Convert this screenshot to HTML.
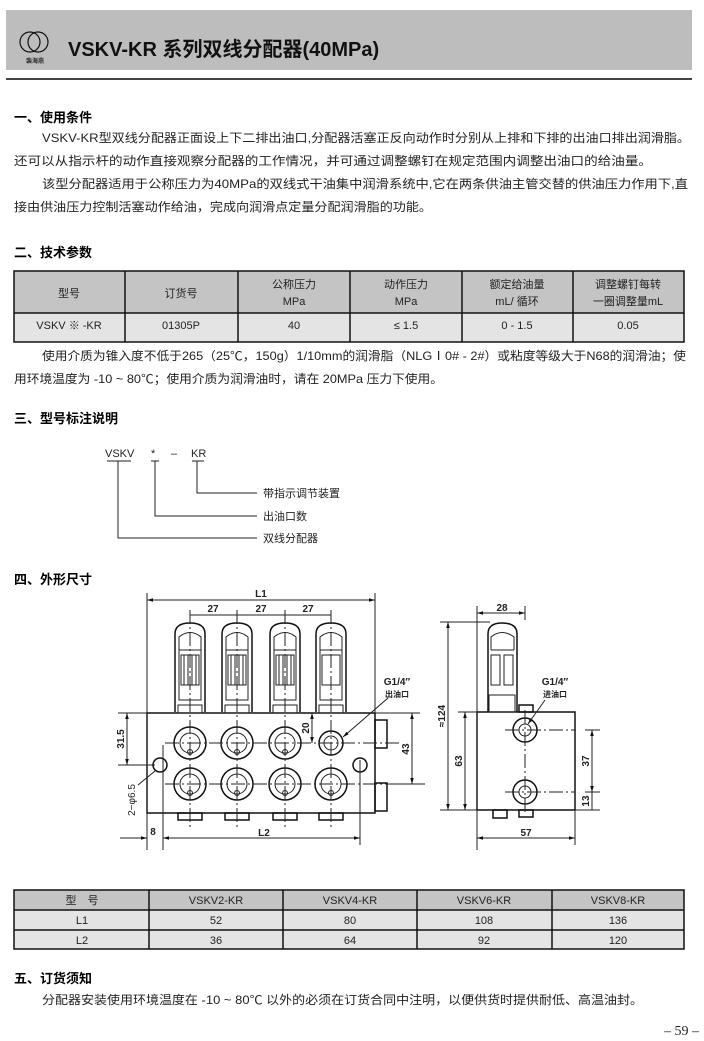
<!DOCTYPE html>
<html><head><meta charset="utf-8"><style>
html,body{margin:0;padding:0;background:#fff}
svg{display:block}
text{font-family:"Liberation Sans","Noto Sans CJK SC",sans-serif;fill:#222}
.b{font-weight:bold}
.t{font-size:12px}
.h{font-size:13px;font-weight:bold;fill:#000}
.d{font-size:10px;font-weight:bold;fill:#111}
.ln{stroke:#222;stroke-width:1;fill:none}
.th{stroke:#111;stroke-width:1.5;fill:none}
</style></head><body>
<svg width="704" height="1041" viewBox="0 0 704 1041" xmlns="http://www.w3.org/2000/svg">
<defs>
<marker id="a" viewBox="0 0 10 10" refX="10" refY="5" markerWidth="6" markerHeight="6" orient="auto-start-reverse"><path d="M0,2 L10,5 L0,8z" fill="#111"/></marker>
</defs>
<!-- header -->
<rect x="6" y="10" width="686" height="60" fill="#bdbdbd"/>
<line x1="6" y1="79" x2="692" y2="79" stroke="#444" stroke-width="2"/>
<circle cx="30" cy="42" r="10" fill="none" stroke="#111" stroke-width="1.2"/>
<circle cx="38" cy="42" r="10" fill="none" stroke="#111" stroke-width="1.2"/>
<text x="26" y="63" style="font-size:6px;font-weight:bold">裴海燕</text>
<text x="68" y="56" class="b" style="font-size:20px;fill:#111">VSKV-KR 系列双线分配器(40MPa)</text>

<text x="14" y="122" class="h">一、使用条件</text>
<text x="42" y="142" class="t" textLength="648" lengthAdjust="spacingAndGlyphs">VSKV-KR型双线分配器正面设上下二排出油口,分配器活塞正反向动作时分别从上排和下排的出油口排出润滑脂。</text>
<text x="14" y="165" class="t" textLength="638" lengthAdjust="spacingAndGlyphs">还可以从指示杆的动作直接观察分配器的工作情况，并可通过调整螺钉在规定范围内调整出油口的给油量。</text>
<text x="42" y="188" class="t" textLength="646" lengthAdjust="spacingAndGlyphs">该型分配器适用于公称压力为40MPa的双线式干油集中润滑系统中,它在两条供油主管交替的供油压力作用下,直</text>
<text x="14" y="211" class="t" textLength="418" lengthAdjust="spacingAndGlyphs">接由供油压力控制活塞动作给油，完成向润滑点定量分配润滑脂的功能。</text>

<text x="14" y="257" class="h">二、技术参数</text>
<rect x="14" y="271" width="670" height="42" fill="#c4c4c4"/>
<rect x="14" y="313" width="670" height="29" fill="#e4e4e4"/>
<g stroke="#111" stroke-width="1.5" fill="none">
<rect x="14" y="271" width="670" height="71"/>
<line x1="14" y1="313" x2="684" y2="313"/>
<line x1="125" y1="271" x2="125" y2="342"/><line x1="238" y1="271" x2="238" y2="342"/><line x1="350" y1="271" x2="350" y2="342"/><line x1="462" y1="271" x2="462" y2="342"/><line x1="573" y1="271" x2="573" y2="342"/>
</g>
<g class="t" text-anchor="middle" style="font-size:11px">
<text x="69" y="297">型号</text><text x="181" y="297">订货号</text>
<text x="294" y="288">公称压力</text><text x="294" y="305">MPa</text>
<text x="406" y="288">动作压力</text><text x="406" y="305">MPa</text>
<text x="517" y="288">额定给油量</text><text x="517" y="305">mL/ 循环</text>
<text x="628" y="288">调整螺钉每转</text><text x="628" y="305">一圈调整量mL</text>
<text x="69" y="329">VSKV ※ -KR</text><text x="181" y="329">01305P</text><text x="294" y="329">40</text>
<text x="406" y="329">≤ 1.5</text><text x="517" y="329">0 - 1.5</text><text x="628" y="329">0.05</text>
</g>
<text x="42" y="360" class="t" textLength="644" lengthAdjust="spacingAndGlyphs">使用介质为锥入度不低于265（25℃，150g）1/10mm的润滑脂（NLGⅠ0# - 2#）或粘度等级大于N68的润滑油；使</text>
<text x="14" y="383" class="t" textLength="429" lengthAdjust="spacingAndGlyphs">用环境温度为 -10 ~ 80℃；使用介质为润滑油时，请在 20MPa 压力下使用。</text>

<text x="14" y="423" class="h">三、型号标注说明</text>
<g class="t" style="font-size:11px">
<text x="105" y="457">VSKV</text><text x="151" y="457">*</text><text x="171" y="457">–</text><text x="191" y="457">KR</text>
<text x="263" y="497">带指示调节装置</text><text x="263" y="520">出油口数</text><text x="263" y="542">双线分配器</text>
</g>
<g class="ln">
<path d="M107 461h24M118 461V538H257"/><path d="M151 461h8M155 461V516H257"/><path d="M192 461h12M197 461V493H257"/>
</g>

<text x="14" y="584" class="h">四、外形尺寸</text>
<!-- front view -->
<g class="th">
<rect x="147" y="713" width="228" height="100"/>
<rect x="375" y="720" width="12" height="28"/><rect x="375" y="783" width="12" height="28"/>
</g>
<g id="ind">
<path class="th" d="M175 712V634Q175 623 190 623Q205 623 205 634V712"/>
<path class="ln" d="M179 650V637Q190 628 201 637V650M179 650h22M179 650V700h22V650"/>
<rect x="181" y="655" width="18" height="30" class="ln"/>
<line x1="184" y1="655" x2="184" y2="685" class="ln"/><line x1="188" y1="655" x2="188" y2="685" class="ln"/><line x1="192" y1="655" x2="192" y2="685" class="ln"/><line x1="196" y1="655" x2="196" y2="685" class="ln"/>
<rect x="178" y="705" width="24" height="8" class="ln"/>
<rect x="178" y="813" width="24" height="7" class="th"/>
<circle cx="190" cy="743" r="16" class="th"/><circle cx="190" cy="743" r="10" class="ln"/><circle cx="190" cy="752" r="2.5" class="ln"/>
<circle cx="190" cy="784" r="16" class="th"/><circle cx="190" cy="784" r="10" class="ln"/><circle cx="190" cy="793" r="2.5" class="ln"/>
</g>
<use href="#ind" x="47"/><use href="#ind" x="95"/>
<g transform="translate(141,0)">
<path class="th" d="M175 712V634Q175 623 190 623Q205 623 205 634V712"/>
<path class="ln" d="M179 650V637Q190 628 201 637V650M179 650h22M179 650V700h22V650"/>
<rect x="181" y="655" width="18" height="30" class="ln"/>
<rect x="178" y="705" width="24" height="8" class="ln"/>
<rect x="178" y="813" width="24" height="7" class="th"/>
<circle cx="190" cy="743" r="12" class="th"/><circle cx="190" cy="743" r="7" class="ln"/>
<circle cx="190" cy="784" r="16" class="th"/><circle cx="190" cy="784" r="10" class="ln"/><circle cx="190" cy="793" r="2.5" class="ln"/>
</g>
<circle cx="160" cy="765" r="7" class="th"/><circle cx="360" cy="765" r="7" class="th"/>
<g class="ln" stroke-dasharray="14 3 2 3" stroke-width="0.7">
<line x1="165" y1="743" x2="400" y2="743"/><line x1="165" y1="784" x2="400" y2="784"/>
<line x1="190" y1="610" x2="190" y2="830"/><line x1="237" y1="610" x2="237" y2="830"/><line x1="285" y1="610" x2="285" y2="830"/><line x1="331" y1="610" x2="331" y2="830"/>
</g>
<g class="ln" stroke-width="0.8">
<line x1="147" y1="593" x2="147" y2="850"/><line x1="375" y1="593" x2="375" y2="713"/>
<line x1="163" y1="745" x2="163" y2="850"/><line x1="360" y1="760" x2="360" y2="845"/>
<line x1="147" y1="600" x2="375" y2="600" marker-start="url(#a)" marker-end="url(#a)"/>
<line x1="190" y1="615" x2="331" y2="615"/>
<line x1="163" y1="838" x2="360" y2="838" marker-start="url(#a)" marker-end="url(#a)"/>
<line x1="120" y1="838" x2="147" y2="838" marker-end="url(#a)"/>
<line x1="118" y1="713" x2="147" y2="713"/><line x1="118" y1="765" x2="155" y2="765"/>
<line x1="127" y1="713" x2="127" y2="765" marker-start="url(#a)" marker-end="url(#a)"/>
<line x1="312" y1="713" x2="312" y2="743" marker-start="url(#a)" marker-end="url(#a)"/>
<line x1="375" y1="713" x2="420" y2="713"/><line x1="390" y1="784" x2="425" y2="784"/>
<line x1="412" y1="713" x2="412" y2="784" marker-start="url(#a)" marker-end="url(#a)"/>
<line x1="388" y1="698" x2="343" y2="737" marker-end="url(#a)"/>
<line x1="155" y1="771" x2="138" y2="785"/>
</g>
<g class="d" text-anchor="middle">
<text x="261" y="597">L1</text><text x="213" y="612">27</text><text x="261" y="612">27</text><text x="308" y="612">27</text>
<text x="264" y="836">L2</text><text x="153" y="835">8</text>
<text x="397" y="685">G1/4″</text><text x="397" y="697" style="font-size:8px">出油口</text>
<text transform="translate(124,739) rotate(-90)">31.5</text>
<text transform="translate(309,728) rotate(-90)">20</text>
<text transform="translate(409,749) rotate(-90)">43</text>
<text transform="translate(135,800) rotate(-90)" style="font-weight:normal">2−φ6.5</text>
</g>
<!-- side view -->
<g class="th">
<rect x="477" y="712" width="98" height="98"/>
<path d="M488 712V634Q488 623 502 623Q517 623 517 634V712"/>
<rect x="493" y="810" width="14" height="8"/><rect x="519" y="705" width="14" height="7"/><rect x="519" y="810" width="14" height="7"/>
<circle cx="525" cy="730" r="12"/><circle cx="525" cy="792" r="12"/>
</g>
<g class="ln">
<path d="M491 650V637Q502 628 514 637V650M491 650h23"/>
<rect x="491" y="655" width="9" height="30"/><rect x="504" y="655" width="9" height="30"/>
<rect x="489" y="695" width="26" height="17"/>
<circle cx="525" cy="730" r="6"/><circle cx="525" cy="792" r="6"/>
</g>
<g class="ln" stroke-width="0.8">
<line x1="477" y1="606" x2="477" y2="850"/><line x1="525" y1="606" x2="525" y2="620"/><line x1="575" y1="810" x2="575" y2="845"/>
<line x1="477" y1="613" x2="525" y2="613" marker-start="url(#a)" marker-end="url(#a)"/>
<line x1="440" y1="622" x2="490" y2="622"/><line x1="440" y1="810" x2="477" y2="810"/><line x1="458" y1="712" x2="477" y2="712"/>
<line x1="448" y1="622" x2="448" y2="810" marker-start="url(#a)" marker-end="url(#a)"/>
<line x1="465" y1="712" x2="465" y2="810" marker-start="url(#a)" marker-end="url(#a)"/>
<line x1="477" y1="838" x2="575" y2="838" marker-start="url(#a)" marker-end="url(#a)"/>
<line x1="585" y1="730" x2="600" y2="730"/><line x1="585" y1="792" x2="600" y2="792"/><line x1="575" y1="810" x2="600" y2="810"/>
<line x1="592" y1="730" x2="592" y2="792" marker-start="url(#a)" marker-end="url(#a)"/>
<line x1="592" y1="792" x2="592" y2="810"/>
<line x1="545" y1="700" x2="528" y2="724" marker-end="url(#a)"/>
</g>
<g class="ln" stroke-dasharray="14 3 2 3" stroke-width="0.7">
<line x1="505" y1="730" x2="575" y2="730"/><line x1="505" y1="792" x2="575" y2="792"/><line x1="525" y1="710" x2="525" y2="815"/>
</g>
<g class="d" text-anchor="middle">
<text x="502" y="611">28</text><text x="526" y="836">57</text>
<text x="555" y="685">G1/4″</text><text x="555" y="697" style="font-size:8px">进油口</text>
<text transform="translate(445,716) rotate(-90)">≈124</text>
<text transform="translate(462,761) rotate(-90)">63</text>
<text transform="translate(589,761) rotate(-90)">37</text>
<text transform="translate(589,801) rotate(-90)">13</text>
</g>

<!-- table 2 -->
<rect x="14" y="890" width="670" height="20" fill="#c4c4c4"/>
<rect x="14" y="910" width="670" height="39" fill="#e4e4e4"/>
<g stroke="#111" stroke-width="1.5" fill="none">
<rect x="14" y="890" width="670" height="59"/>
<line x1="14" y1="910" x2="684" y2="910"/><line x1="14" y1="930" x2="684" y2="930"/>
<line x1="149" y1="890" x2="149" y2="949"/><line x1="283" y1="890" x2="283" y2="949"/><line x1="417" y1="890" x2="417" y2="949"/><line x1="552" y1="890" x2="552" y2="949"/>
</g>
<g text-anchor="middle" style="font-size:11px">
<text x="82" y="904">型　号</text><text x="216" y="904">VSKV2-KR</text><text x="350" y="904">VSKV4-KR</text><text x="484" y="904">VSKV6-KR</text><text x="618" y="904">VSKV8-KR</text>
<text x="82" y="924">L1</text><text x="216" y="924">52</text><text x="350" y="924">80</text><text x="484" y="924">108</text><text x="618" y="924">136</text>
<text x="82" y="944">L2</text><text x="216" y="944">36</text><text x="350" y="944">64</text><text x="484" y="944">92</text><text x="618" y="944">120</text>
</g>
<text x="14" y="983" class="h">五、订货须知</text>
<text x="42" y="1004" class="t" textLength="601" lengthAdjust="spacingAndGlyphs">分配器安装使用环境温度在 -10 ~ 80℃ 以外的必须在订货合同中注明，以便供货时提供耐低、高温油封。</text>
<text x="664" y="1035" style="font-family:'Liberation Serif',serif;font-size:14px">– 59 –</text>
</svg>
</body></html>
